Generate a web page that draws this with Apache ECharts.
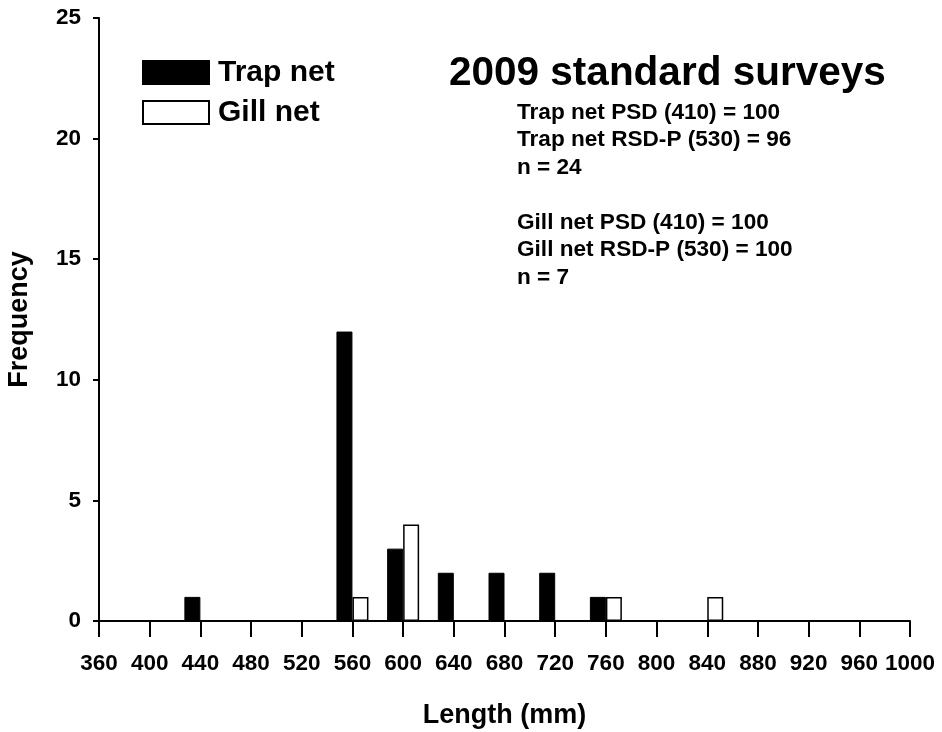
<!DOCTYPE html>
<html>
<head>
<meta charset="utf-8">
<script src="https://cdn.jsdelivr.net/npm/echarts@6/dist/echarts.min.js"></script>
<style>
html,body{margin:0;padding:0;background:#fff;}
#chart{width:942px;height:732px;}
</style>
</head>
<body>
<div id="chart"></div>
<script>
// Length classes (mm) shown on the x axis
var lengthClasses = [360,400,440,480,520,560,600,640,680,720,760,800,840,880,920,960,1000];
// Trap net frequencies by length class
var trapLengths = [440,560,600,640,680,720,760];
var trapFreq    = [1,12,3,2,2,2,1];
// Gill net frequencies by length class
var gillLengths = [560,600,760,840];
var gillFreq    = [1,4,1,1];
// y-axis tick values
var yTicks = [0,5,10,15,20,25];

var titleText = '2009 standard surveys';
var statsLines = [
  'Trap net PSD (410) = 100',
  'Trap net RSD-P (530) = 96',
  'n = 24',
  '',
  'Gill net PSD (410) = 100',
  'Gill net RSD-P (530) = 100',
  'n = 7'
];

function toSeries(lens, freqs){
  return lengthClasses.map(function(c){
    var i = lens.indexOf(c);
    return i >= 0 ? freqs[i] : '-';
  });
}

var FONT = '"Liberation Sans", Arial, sans-serif';
var chart = echarts.init(document.getElementById('chart'), null, {renderer:'canvas'});
chart.setOption({
  animation:false,
  backgroundColor:'#ffffff',
  textStyle:{fontFamily:FONT},
  grid:{left:99, right:32, top:18, bottom:111, containLabel:false, outerBoundsMode:'none'},
  legend:{
    orient:'vertical', left:142, top:57.5, padding:0,
    itemWidth:66, itemHeight:23, itemGap:10,
    icon:'rect',
    textStyle:{fontFamily:FONT, fontWeight:'bold', fontSize:30, lineHeight:28, color:'#000', padding:[0,0,0,4]},
    data:['Trap net','Gill net']
  },
  xAxis:{
    type:'category',
    data:lengthClasses.map(String),
    boundaryGap:false,
    name:'Length (mm)',
    nameLocation:'middle',
    nameGap:81,
    nameTextStyle:{fontFamily:FONT, fontWeight:'bold', fontSize:27, color:'#000'},
    axisLine:{lineStyle:{color:'#000', width:2}},
    axisTick:{show:true, interval:0, length:16, lineStyle:{color:'#000', width:2}},
    axisLabel:{interval:0, margin:31, fontFamily:FONT, fontWeight:'bold', fontSize:22.5, color:'#000'},
    splitLine:{show:false}
  },
  yAxis:{
    type:'value',
    min:0, max:25, interval:5,
    name:'Frequency',
    nameLocation:'middle',
    nameGap:66,
    nameTextStyle:{fontFamily:FONT, fontWeight:'bold', fontSize:27, color:'#000'},
    axisLine:{show:true, lineStyle:{color:'#000', width:2}},
    axisTick:{show:true, length:6, lineStyle:{color:'#000', width:2}},
    axisLabel:{margin:18, fontFamily:FONT, fontWeight:'bold', fontSize:22.5, color:'#000',
      formatter:function(v){ return yTicks.indexOf(v) >= 0 ? String(v) : ''; }},
    splitLine:{show:false}
  },
  series:[
    {
      name:'Trap net', type:'bar',
      data:toSeries(trapLengths, trapFreq),
      barWidth:16, barGap:'0%',
      itemStyle:{color:'#000', borderColor:'#000', borderWidth:1}
    },
    {
      name:'Gill net', type:'bar',
      data:toSeries(gillLengths, gillFreq),
      barWidth:16, barGap:'0%',
      itemStyle:{color:'#fff', borderColor:'#000', borderWidth:1.5}
    }
  ],
  graphic:[
    {
      type:'text', left:449, top:53,
      style:{text:titleText, fontFamily:FONT, fontWeight:'bold', fontSize:40.5, fill:'#000'}
    },
    {
      type:'text', left:517, top:99,
      style:{text:statsLines.join('\n'), fontFamily:FONT, fontWeight:'bold', fontSize:22.6, lineHeight:27.5, fill:'#000'}
    }
  ]
});
</script>
</body>
</html>
